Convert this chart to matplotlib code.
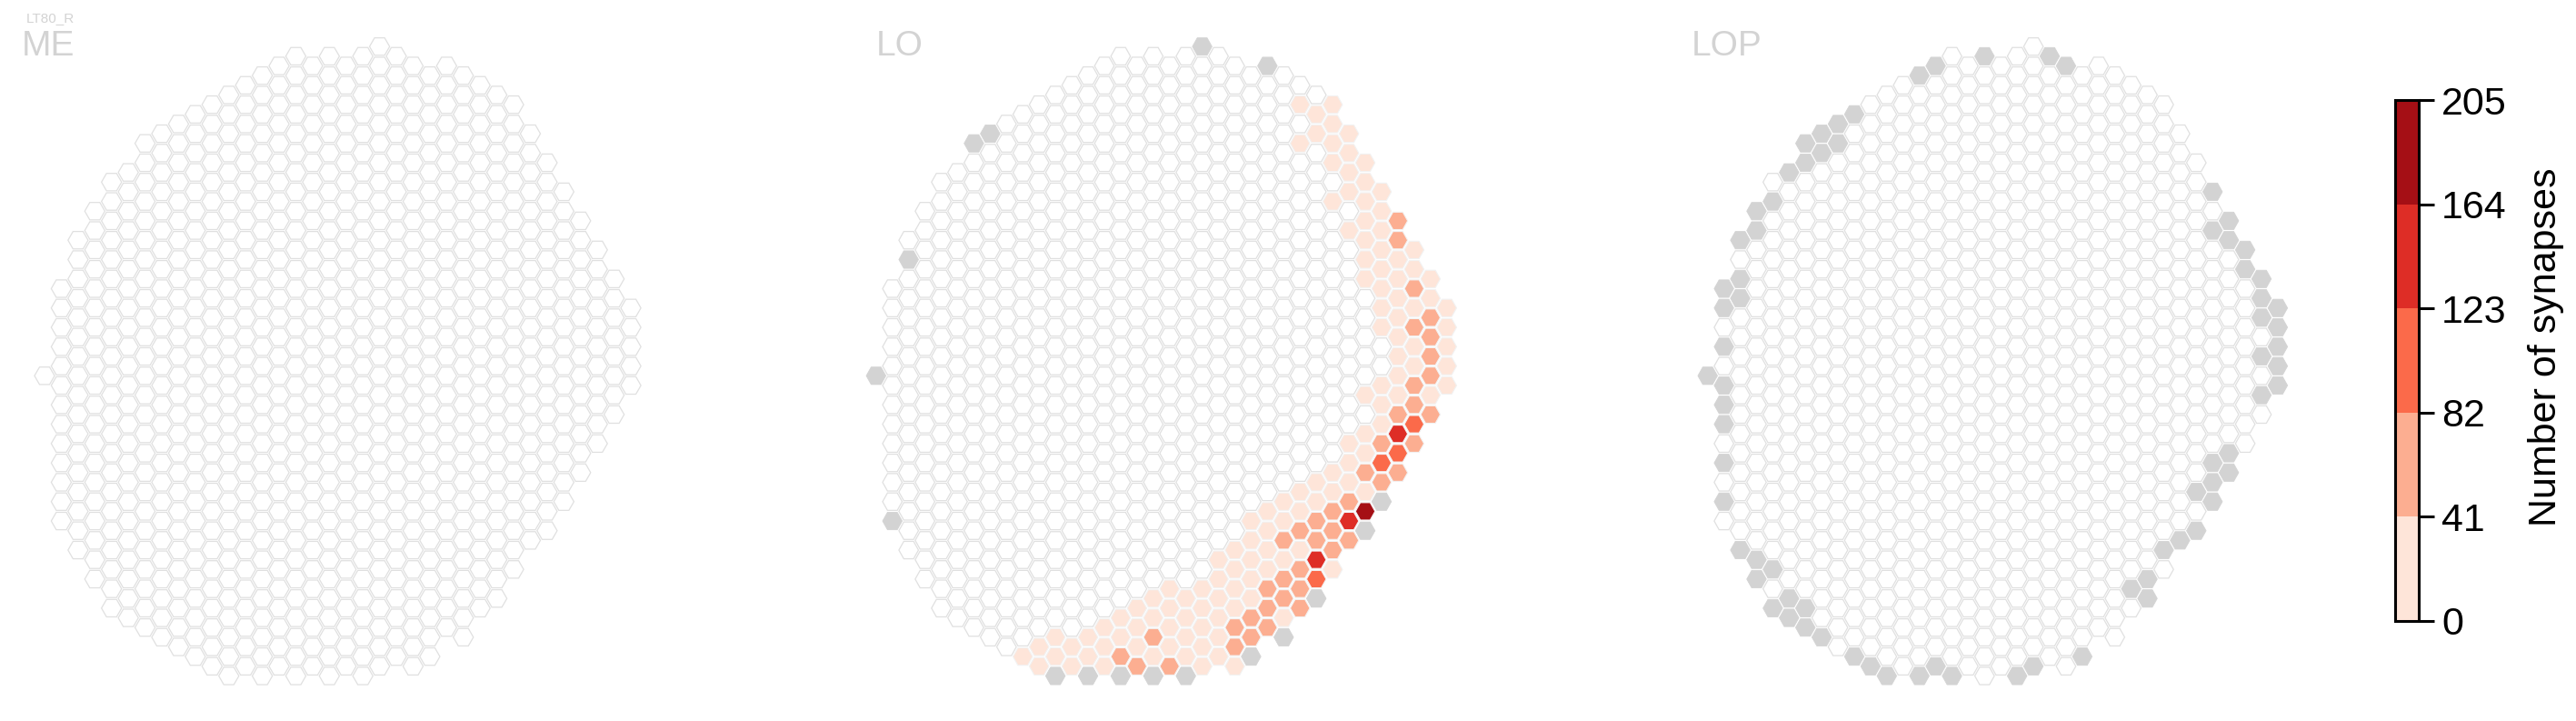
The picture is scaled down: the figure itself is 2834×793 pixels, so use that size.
import numpy as np
import matplotlib
matplotlib.use("Agg")
import matplotlib.pyplot as plt
from matplotlib.patches import RegularPolygon
from matplotlib.colors import ListedColormap, BoundaryNorm
import matplotlib.cm as cm

plt.rcParams['font.family'] = ['Liberation Sans', 'DejaVu Sans']

# hex grid: column index c (0..35), half-row index v (same parity as c)
col_top = [0, -9, -14, -17, -20, -21, -24, -25, -26, -27, -28, -29, -30, -31, -32, -33, -32, -33,
           -32, -33, -34, -33, -32, -31, -32, -31, -30, -29, -28, -25, -22, -19, -16, -13, -10, -7]
col_bot = [0, 15, 18, 21, 24, 25, 26, 27, 28, 29, 30, 31, 30, 31, 30, 31, 30, 31,
           30, 31, 30, 29, 30, 29, 26, 27, 24, 23, 20, 17, 16, 13, 10, 7, 4, 1]

# LO synapse counts per column (c, v, value)
lo_c = [26, 26, 27, 27, 28, 28, 28, 28, 28, 29, 29, 29, 29, 29,
        30, 30, 30, 30, 30, 30, 30, 31, 31, 31, 31, 31, 31, 31, 31,
        32, 32, 32, 32, 32, 32, 32, 33, 33,
        33, 33, 33, 33, 33, 33, 33, 33, 33,
        34, 34, 34, 34, 34, 34, 34, 34,
        35, 35, 35, 35, 35,
        32, 32, 32, 32, 32, 32, 32,
        31, 31, 31, 31, 31, 31,
        30, 30, 30, 30, 30, 30,
        29, 29, 29, 29, 29, 29,
        28, 28, 28, 28, 28, 28,
        27, 27, 27, 27, 27, 27,
        26, 26, 26, 26, 26, 26, 26,
        25, 25, 25, 25, 25, 25, 25,
        24, 24, 24, 24, 24, 24, 24,
        23, 23, 23, 23, 23, 23, 23,
        22, 22, 22, 22, 22, 22, 22,
        21, 21, 21, 21, 21, 21,
        20, 20, 20, 20, 20,
        19, 19, 19, 19,
        18, 18, 18, 18, 18,
        17, 17, 17, 17,
        16, 16, 16, 16,
        15, 15, 15,
        14, 14, 14,
        13, 13, 12, 12, 11, 11, 10, 10, 9]
lo_v = [-28, -24, -27, -25, -28, -26, -24, -22, -18, -25, -23, -21, -19, -15,
        -22, -20, -18, -16, -14, -12, -10, -19, -17, -15, -13, -11, -9, -7, -5,
        -16, -14, -12, -10, -8, -6, -4, -13, -11,
        -9, -7, -5, -3, -1, 1, 3, 5, 7,
        -10, -8, -6, -4, -2, 0, 2, 4,
        -7, -5, -3, -1, 1,
        -2, 0, 2, 4, 6, 8, 10,
        1, 3, 5, 7, 9, 11,
        2, 6, 8, 10, 12, 14,
        7, 9, 11, 13, 15, 17,
        10, 12, 14, 16, 18, 20,
        11, 13, 15, 17, 19, 21,
        12, 14, 16, 18, 20, 22, 24,
        13, 15, 17, 19, 21, 23, 25,
        14, 16, 18, 20, 22, 24, 26,
        15, 17, 19, 21, 23, 25, 27,
        18, 20, 22, 24, 26, 28, 30,
        19, 21, 23, 25, 27, 29,
        22, 24, 26, 28, 30,
        23, 25, 27, 29,
        22, 24, 26, 28, 30,
        23, 25, 27, 29,
        24, 26, 28, 30,
        25, 27, 29,
        26, 28, 30,
        27, 29, 28, 30, 27, 29, 28, 30, 29]
lo_val = [18, 15, 20, 16, 17, 22, 19, 14, 12, 21, 18, 16, 13, 11,
          19, 17, 20, 24, 22, 15, 13, 16, 18, 21, 25, 23, 19, 17, 15,
          55, 52, 30, 28, 26, 24, 22, 27, 25,
          58, 30, 62, 26, 24, 60, 64, 105, 66,
          20, 24, 61, 63, 65, 59, 30, 62,
          18, 21, 23, 20, 17,
          14, 16, 25, 60, 150, 98, 62,
          22, 28, 33, 64, 102, 68,
          20, 24, 30, 60, 32, 195,
          18, 24, 35, 66, 148, 63,
          16, 22, 62, 64, 61, 30,
          15, 25, 63, 65, 145, 104,
          14, 20, 64, 28, 61, 62, 67,
          12, 18, 66, 24, 63, 65, 30,
          10, 16, 22, 26, 62, 64, 66,
          12, 18, 20, 24, 30, 63, 66,
          14, 20, 24, 26, 62, 64, 25,
          12, 18, 22, 26, 30, 24,
          16, 20, 24, 28, 26,
          14, 22, 26, 28,
          20, 24, 30, 26, 62,
          18, 22, 64, 26,
          20, 24, 28, 63,
          16, 22, 62,
          18, 24, 26,
          20, 22, 18, 24, 20, 22, 16, 20, 18]

# columns without data (gray) per neuropil
lo_gray_c = [20, 24, 7, 6, 2, 0, 1, 11, 13, 15, 17, 19, 23, 25, 27, 30, 31]
lo_gray_v = [-34, -32, -25, -24, -12, 0, 15, 31, 31, 31, 31, 31, 29, 27, 23, 16, 13]
lop_gray_c = [17, 21, 22, 14, 13, 9, 8, 7, 6, 8, 7, 6, 5, 4, 3, 3, 2, 2, 1, 2, 1, 1, 0, 1, 1, 1, 1, 1,
              2, 3, 3, 4, 4, 5, 5, 6, 6, 7, 9, 10, 11, 13, 14, 15, 19, 20, 23,
              26, 27, 27, 28, 29, 30, 30, 31, 31, 32, 31, 32,
              34, 35, 35, 34, 35, 35, 34, 35, 34, 34, 33, 33, 32, 32, 31, 31]
lop_gray_v = [-33, -33, -32, -32, -31, -27, -26, -25, -24, -24, -23, -22, -21, -18, -17, -15, -14, -10, -9, -8, -7, -3, 0, 1, 3, 5, 9, 13,
              18, 19, 21, 20, 24, 23, 25, 24, 26, 27, 29, 30, 31, 31, 30, 31, 31, 30, 29,
              22, 21, 23, 18, 17, 16, 12, 13, 11, 10, 9, 8,
              2, 1, -1, -2, -3, -5, -6, -7, -8, -10, -11, -13, -14, -16, -15, -19]

bin_edges = [0, 41, 82, 123, 164, 205]
bin_colors = ['#fee5d9', '#fcae91', '#fb6a4a', '#de2d26', '#a50f15']
panels = ['ME', 'LO', 'LOP']

W, H = 2834, 793
fig = plt.figure(figsize=(W / 100, H / 100), dpi=100)
cmap = ListedColormap(bin_colors)
norm = BoundaryNorm(bin_edges, cmap.N)
h = np.sqrt(3) / 2


def panel_axes(xl, xr, x0, colstep, y0=413.3, halfstep=10.65):
    sx = colstep / 1.5
    sy = halfstep / h
    ax = fig.add_axes([xl / W, 0, (xr - xl) / W, 1])
    ax.set_xlim((xl - x0) / sx, (xr - x0) / sx)
    ax.set_ylim((y0 - H) / sy, y0 / sy)
    ax.axis('off')
    return ax


def draw_panel(ax, values, gray):
    for c in range(len(col_top)):
        for v in range(col_top[c], col_bot[c] + 1, 2):
            x, y = 1.5 * c, -v * h
            if (c, v) in gray:
                fc, ec, lw = '#d3d3d3', '#d3d3d3', 0.6
            elif (c, v) in values:
                fc, ec, lw = cmap(norm(values[(c, v)])), '#f2f2f2', 0.8
            else:
                fc, ec, lw = 'white', '#e0e0e0', 0.9
            ax.add_patch(RegularPolygon((x, y), 6, radius=0.9, orientation=np.pi / 6,
                                        facecolor=fc, edgecolor=ec, linewidth=lw))


ax_me = panel_axes(0, 760, 49.0, 18.43)
draw_panel(ax_me, {}, set())
ax_lo = panel_axes(900, 1700, 963.8, 17.94)
draw_panel(ax_lo, dict(zip(zip(lo_c, lo_v), lo_val)), set(zip(lo_gray_c, lo_gray_v)))
ax_lop = panel_axes(1800, 2600, 1878.7, 17.92)
draw_panel(ax_lop, {}, set(zip(lop_gray_c, lop_gray_v)))

title_col = '#d3d3d3'
fig.text(29 / W, 1 - 13 / H, 'LT80_R', fontsize=11, color=title_col, va='top')
for name, xpos in zip(panels, [24, 964, 1861]):
    fig.text(xpos / W, 1 - 61 / H, name, fontsize=28, color=title_col, va='baseline')

cax = fig.add_axes([2635 / W, 1 - 683 / H, 26 / W, 573 / H])
sm = cm.ScalarMappable(norm=norm, cmap=cmap)
cb = fig.colorbar(sm, cax=cax, ticks=bin_edges)
cb.outline.set_linewidth(2.2)
cax.tick_params(labelsize=31, length=12, width=2.2, pad=6)
cb.set_label('Number of synapses', fontsize=31)
cax.yaxis.set_label_coords(5.6, 0.525)

fig.savefig('out.png', dpi=100)
